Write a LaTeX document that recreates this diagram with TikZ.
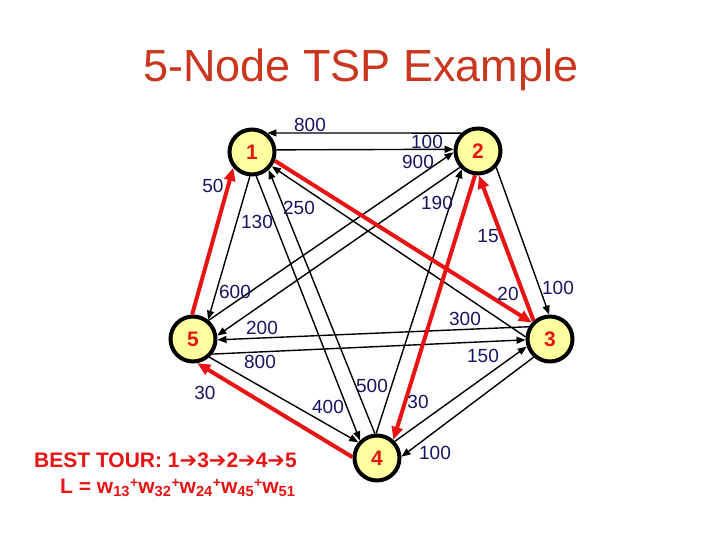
\documentclass[tikz,border=0pt]{standalone}
\usepackage{fontspec}
\setmainfont{Liberation Sans}
\newfontfamily\arrowfont{DejaVu Sans}
\usetikzlibrary{arrows.meta}

\definecolor{titlered}{RGB}{200,55,30}
\definecolor{tourred}{RGB}{232,20,20}
\definecolor{weightblue}{RGB}{22,22,100}
\definecolor{cityfill}{RGB}{255,255,160}

\newcommand{\tourarrow}{{\arrowfont\bfseries ➔}}
\newcommand{\tourplus}{\raisebox{0.5ex}{\fontsize{14}{14}\selectfont+}}

\tikzset{
    city/.style={circle, draw=black, line width=4pt, fill=cityfill, minimum size=45pt,
        inner sep=0pt, text=tourred, font=\fontsize{21}{21}\selectfont\bfseries},
    road/.style={line width=1.4pt, -{Triangle[length=9pt,width=7pt]}},
    tourroad/.style={line width=4pt, draw=tourred, -{Triangle[length=13pt,width=11pt]}},
    weight/.style={text=weightblue, font=\fontsize{19}{19}\selectfont, inner sep=0pt},
    tourtext/.style={text=tourred, font=\fontsize{21}{21}\selectfont\bfseries, inner sep=0pt, anchor=base west}
}

\begin{document}
\begin{tikzpicture}[x=1pt, y=-1pt]
    \fill[white] (0,0) rectangle (720,540);
    \useasboundingbox (0,0) rectangle (720,540);

    % Title
    \node[anchor=base, text=titlered, font=\fontsize{45}{45}\selectfont] (title) at (361,82) {5-Node TSP Example};

    % Cities
    \node[city] (n1) at (252,152) {1};
    \node[city] (n2) at (478,151) {2};
    \node[city] (n3) at (550,339) {3};
    \node[city] (n4) at (377,458) {4};
    \node[city] (n5) at (193,339) {5};

    % Black roads (one per direction)
    \draw[road] (n2.133) -- (n1.51);
    \draw[road] (n1.5) -- (n2.176);
    \draw[road] (n3.175) -- (n1.-36);
    \draw[road] (n2.-42) -- (n3.92);
    \draw[road] (n4.92) -- (n2.228);
    \draw[road] (n1.-80) -- (n4.134);
    \draw[road] (n4.95) -- (n1.-47);
    \draw[road] (n1.-95) -- (n5.52);
    \draw[road] (n5.50) -- (n2.183);
    \draw[road] (n2.222) -- (n5.8);
    \draw[road] (n3.150) -- (n5.-2);
    \draw[road] (n5.-38) -- (n3.182);
    \draw[road] (n5.-48) -- (n4.140);
    \draw[road] (n4.43) -- (n3.198);
    \draw[road] (n3.228) -- (n4.3);

    % Best tour 1-3-2-4-5
    \draw[tourroad] (n1.-21) -- (n3.138);
    \draw[tourroad] (n3.132) -- (n2.-88);
    \draw[tourroad] (n2.-97) -- (n4.48);
    \draw[tourroad] (n4.178) -- (n5.-80);
    \draw[tourroad] (n5.92) -- (n1.220);

    % Weights
    \node[weight] (w21) at (310,125) {800};
    \node[weight] (w12) at (427,142) {100};
    \node[weight] (w52) at (418,162) {900};
    \node[weight] (w51) at (213,186) {50};
    \node[weight] (w14) at (257,222) {130};
    \node[weight] (w31) at (299,208) {250};
    \node[weight] (w42) at (437,203) {190};
    \node[weight] (w32) at (488,236) {15};
    \node[weight] (w15) at (235,292) {600};
    \node[weight] (w13) at (508,294) {20};
    \node[weight] (w23) at (558,288) {100};
    \node[weight] (w35) at (262,328) {200};
    \node[weight] (w53) at (465,319) {300};
    \node[weight] (w43) at (483,356) {150};
    \node[weight] (w25) at (260,362) {800};
    \node[weight] (w45) at (205,393) {30};
    \node[weight] (w41) at (372,386) {500};
    \node[weight] (w54) at (328,407) {400};
    \node[weight] (w24) at (418,402) {30};
    \node[weight] (w34) at (435,453) {100};

    % Tour summary
    \node[tourtext] (best) at (34,467) {BEST TOUR: 1\tourarrow3\tourarrow2\tourarrow4\tourarrow5};
    \node[tourtext] (len) at (60,493) {L = w\textsubscript{13}\tourplus w\textsubscript{32}\tourplus w\textsubscript{24}\tourplus w\textsubscript{45}\tourplus w\textsubscript{51}};
\end{tikzpicture}
\end{document}
